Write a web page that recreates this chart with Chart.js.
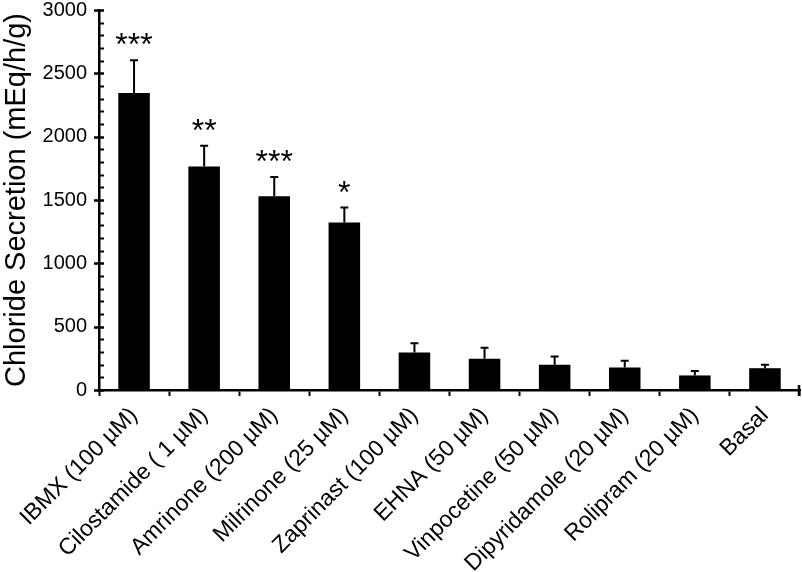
<!DOCTYPE html>
<html>
<head>
<meta charset="utf-8">
<script src="https://cdn.jsdelivr.net/npm/chart.js@4/dist/chart.umd.min.js"></script>
<style>
  body { margin: 0; background: #fff; }
  #wrap { width: 802px; height: 572px; }
</style>
</head>
<body>
<div id="wrap"><canvas id="chart" width="802" height="572"></canvas></div>
<script>
// ----- data -----
const drugs = [
  "IBMX (100 µM)", "Cilostamide ( 1 µM)", "Amrinone (200 µM)", "Milrinone (25 µM)",
  "Zaprinast (100 µM)", "EHNA (50 µM)", "Vinpocetine (50 µM)", "Dipyridamole (20 µM)",
  "Rolipram (20 µM)", "Basal"
];
const secretion = [2345, 1765, 1530, 1322, 297, 247, 199, 178, 115, 172];
const sem = [258, 163, 152, 118, 73, 86, 66, 53, 35, 27];
const stars = ["***", "**", "***", "*", "", "", "", "", "", ""];

const yTicksMajor = 500;
const FONT = "'Liberation Sans', Arial, sans-serif";

// y ticks (major cross the axis, minor point inward) + end tick on x axis
const axisTicks = {
  id: "axisTicks",
  afterDraw(chart) {
    const ctx = chart.ctx;
    const y = chart.scales.y;
    const x = chart.scales.x;
    const ax = chart.chartArea.left;
    ctx.save();
    ctx.strokeStyle = "#000";
    y.ticks.forEach((t) => {
      const py = Math.round(y.getPixelForValue(t.value)) + 0.5;
      const major = t.value % yTicksMajor === 0;
      ctx.lineWidth = major ? 2.5 : 2;
      ctx.beginPath();
      ctx.moveTo(major ? ax - 5 : ax, py);
      ctx.lineTo(ax + 5, py);
      ctx.stroke();
    });
    // closing tick at the right end of the x axis
    const ay = chart.chartArea.bottom;
    ctx.lineWidth = 2.5;
    ctx.beginPath();
    ctx.moveTo(x.right - 1, ay - 5);
    ctx.lineTo(x.right - 1, ay + 6);
    ctx.stroke();
    ctx.restore();
  }
};

// error bars (upward only) + significance stars
const errorBars = {
  id: "errorBars",
  afterDatasetsDraw(chart) {
    const ctx = chart.ctx;
    const yScale = chart.scales.y;
    const meta = chart.getDatasetMeta(0);
    ctx.save();
    ctx.strokeStyle = "#000";
    ctx.lineWidth = 2;
    meta.data.forEach((bar, i) => {
      const yTop = yScale.getPixelForValue(secretion[i] + sem[i]);
      const yBar = yScale.getPixelForValue(secretion[i]);
      ctx.beginPath();
      ctx.moveTo(bar.x, yBar);
      ctx.lineTo(bar.x, yTop);
      ctx.moveTo(bar.x - 4, yTop);
      ctx.lineTo(bar.x + 4, yTop);
      ctx.stroke();
      if (stars[i]) {
        ctx.fillStyle = "#000";
        ctx.font = "32px " + FONT;
        ctx.textAlign = "center";
        ctx.textBaseline = "alphabetic";
        ctx.fillText(stars[i], bar.x, yTop - 5);
      }
    });
    ctx.restore();
  }
};

new Chart(document.getElementById("chart"), {
  type: "bar",
  data: {
    labels: drugs,
    datasets: [
      {
        data: secretion,
        backgroundColor: "#000",
        borderWidth: 0,
        categoryPercentage: 1,
        barPercentage: 0.45,
      },
    ],
  },
  options: {
    responsive: false,
    animation: false,
    layout: { autoPadding: false, padding: { top: 10, right: 2, left: 0, bottom: 0 } },
    plugins: { legend: { display: false }, tooltip: { enabled: false } },
    scales: {
      x: {
        grid: {
          drawOnChartArea: false,
          color: "#000",
          tickLength: 6,
          tickWidth: 2,
        },
        border: { color: "#000", width: 2.5 },
        ticks: {
          color: "#000",
          font: { family: FONT, size: 23 },
          minRotation: 45,
          maxRotation: 45,
          autoSkip: false,
          padding: 6,
        },
        afterFit(scale) {
          scale.height = 182;
          scale.paddingLeft = 0;
          scale.paddingRight = 0;
        },
      },
      y: {
        min: 0,
        max: 3000,
        grid: { drawOnChartArea: false, drawTicks: false },
        border: { color: "#000", width: 2.5 },
        ticks: {
          stepSize: 100,
          autoSkip: false,
          color: "#000",
          padding: 12,
          font: { family: FONT, size: 20 },
          callback: (v) => (v % yTicksMajor === 0 ? v : ""),
        },
        title: {
          display: true,
          text: "Chloride Secretion (mEq/h/g)",
          color: "#000",
          font: { family: FONT, size: 29 },
          padding: { top: 0, bottom: 3 },
        },
        afterFit(scale) {
          scale.width = 99;
          scale.paddingTop = 0;
          scale.paddingBottom = 0;
        },
      },
    },
  },
  plugins: [errorBars, axisTicks],
});
</script>
</body>
</html>
